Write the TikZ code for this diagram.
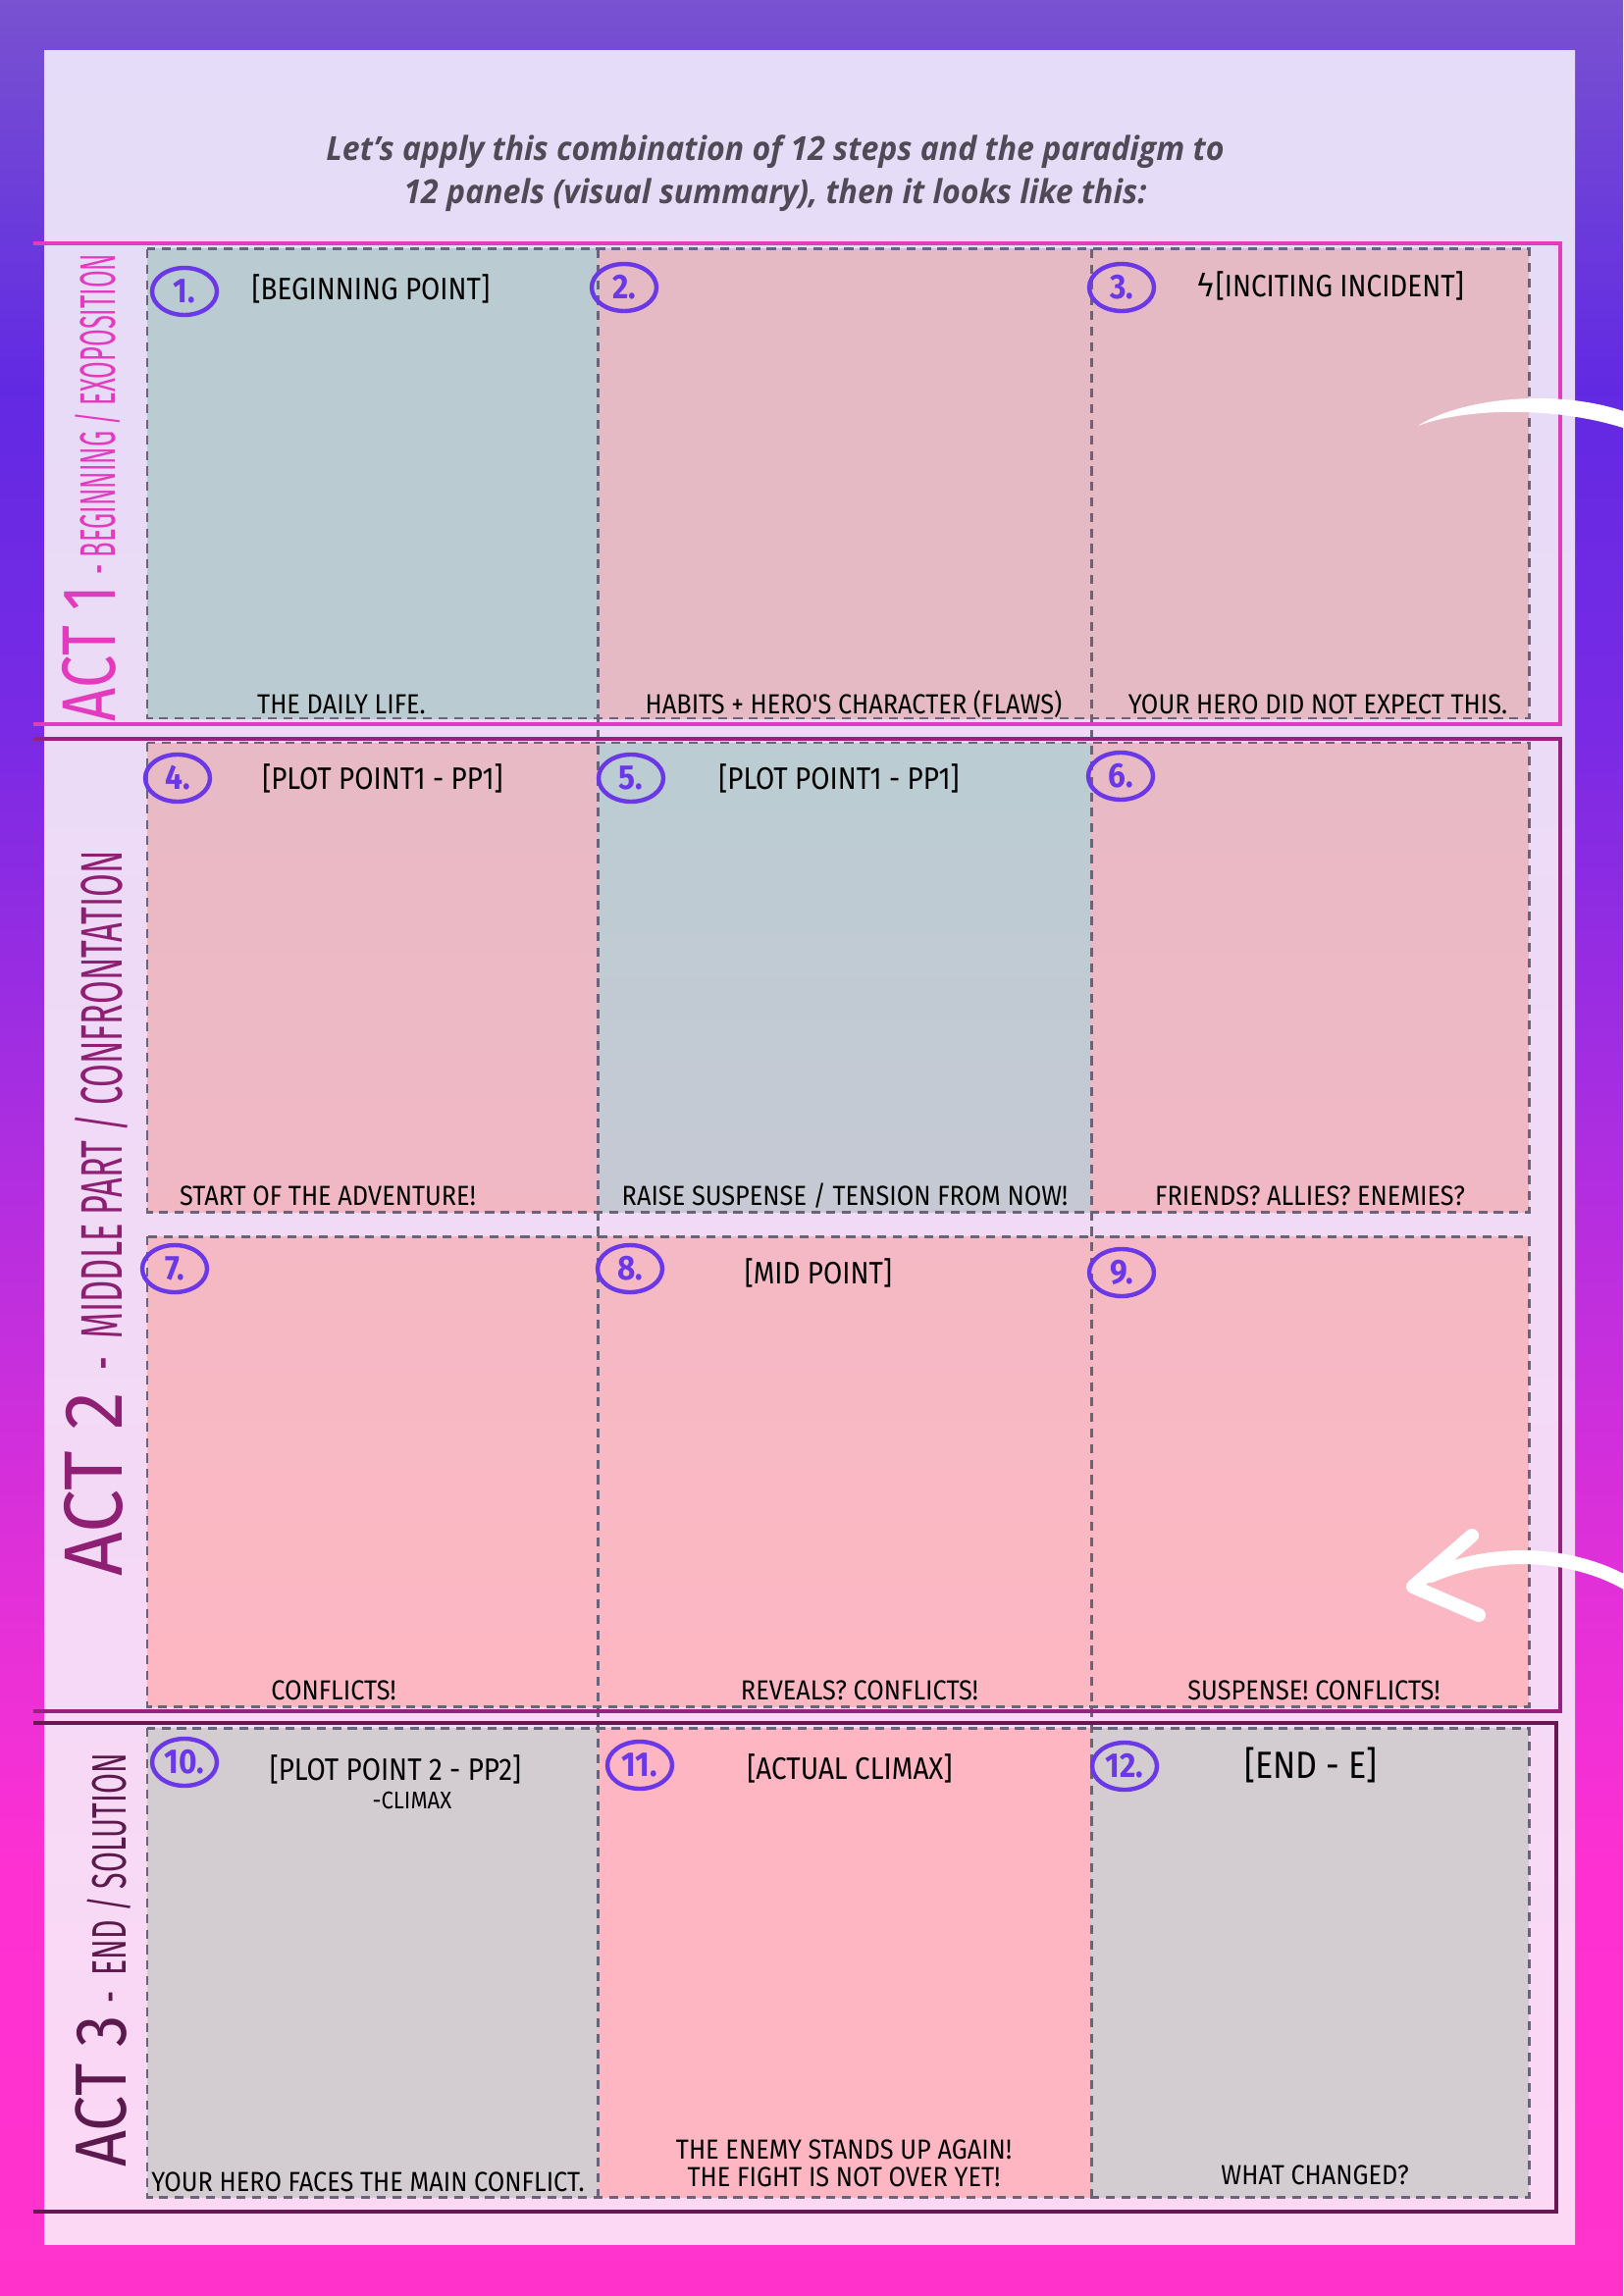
\documentclass[tikz,border=0pt]{standalone}
\usepackage{graphicx}
\usepackage{fontspec}
\setmainfont{Fira Sans}
\newfontfamily\titlefont[FakeStretch=0.95]{Open Sans}
\newfontfamily\handfont[FakeStretch=0.9]{Fira Sans}
\newfontfamily\handnarrow[FakeStretch=0.88]{Fira Sans}
\newfontfamily\actfont[FakeStretch=0.5]{Fira Sans}
\newfontfamily\actbig[FakeStretch=0.7]{Fira Sans}
\newfontfamily\symfont{DejaVu Sans}
\usetikzlibrary{positioning,fit,calc,shapes.geometric}
\definecolor{bgA}{HTML}{FF33CC}
\definecolor{bgB}{HTML}{FF30D2}
\definecolor{bgC}{HTML}{E430D8}
\definecolor{bgD}{HTML}{B02EE0}
\definecolor{bgE}{HTML}{7A2AE4}
\definecolor{bgF}{HTML}{6229E3}
\definecolor{bgG}{HTML}{7852D0}
\definecolor{pagetop}{HTML}{E4DCF8}
\definecolor{pagebot}{HTML}{FCD8F5}
\definecolor{pblue}{HTML}{BACCD2}
\definecolor{pblueB}{HTML}{BBCCD3}
\definecolor{pblueC}{HTML}{C6C9D3}
\definecolor{ppinkA}{HTML}{E6BAC4}
\definecolor{ppinkB}{HTML}{E7BAC5}
\definecolor{ppinkC}{HTML}{F1B8C4}
\definecolor{ppinkD}{HTML}{F4B9C4}
\definecolor{ppinkE}{HTML}{FDB7C3}
\definecolor{ppinkF}{HTML}{FFB6C3}
\definecolor{pgray}{HTML}{D3CCD1}
\definecolor{dashgray}{HTML}{6A6478}
\definecolor{actone}{HTML}{E33BBD}
\definecolor{acttwo}{HTML}{9A2080}
\definecolor{actthree}{HTML}{66184F}
\definecolor{acttwotext}{HTML}{8E1F72}
\definecolor{actthreetext}{HTML}{5C1A4C}
\definecolor{numviolet}{HTML}{6B38E8}
\definecolor{titlegray}{HTML}{4F4A55}
\pgfdeclareverticalshading{outerbg}{100bp}{color(0bp)=(bgA); color(25bp)=(bgA); color(34bp)=(bgB); color(40bp)=(bgC); color(49.6bp)=(bgD); color(59bp)=(bgE); color(66.5bp)=(bgF); color(75bp)=(bgG); color(100bp)=(bgG)}
\tikzset{cell/.style={inner sep=0pt,outer sep=0pt},
grid/.style={draw=dashgray,line width=.85pt,dash pattern=on 2.6pt off 1.9pt},
actline/.style={line width=1.1pt},
num/.style={ellipse,draw=numviolet,line width=1.25pt,text=numviolet,minimum width=6.6mm,minimum height=4.8mm,inner sep=0pt,font=\handfont\bfseries\fontsize{10}{10}\selectfont},
toplbl/.style={font=\handnarrow\fontsize{9}{9}\selectfont},
botlbl/.style={font=\handfont\fontsize{8}{9}\selectfont,anchor=base},
brush/.style={draw=white,line width=4pt,line cap=round,line join=round}}
\begin{document}
\begin{tikzpicture}[x=.1mm,y=-.1mm]
\useasboundingbox (0,0) rectangle (1654,2340);
\shade[shading=outerbg] (0,0) rectangle (1654,2340);
\shade[top color=pagetop,bottom color=pagebot] (45,52) rectangle (1605,2287);
\node[font=\titlefont\bfseries\itshape\fontsize{9.6}{12.5}\selectfont,text=titlegray,align=center] (title) at (790,177)
  {Let’s apply this combination of 12 steps and the paradigm to\\12 panels (visual summary), then it looks like this:};
% panels
\foreach \n/\xa/\ya/\xb/\yb/\ct/\cb in {1/150/254/609/732/pblue/pblue,2/609/254/1112/732/ppinkA/ppinkA,3/1112/254/1558/732/ppinkA/ppinkA,
  4/150/757/609/1235/ppinkB/ppinkC,5/609/757/1112/1235/pblueB/pblueC,6/1112/757/1558/1235/ppinkB/ppinkC,
  7/150/1260/609/1739/ppinkD/ppinkE,8/609/1260/1112/1739/ppinkD/ppinkE,9/1112/1260/1558/1739/ppinkD/ppinkE,
  10/150/1761/609/2239/pgray/pgray,11/609/1761/1112/2239/ppinkF/ppinkF,12/1112/1761/1558/2239/pgray/pgray}{
  \node[cell,top color=\ct,bottom color=\cb,fit={(\xa,\ya) (\xb,\yb)}] (p\n) {};
}
\foreach \a/\b in {p1/p3,p4/p6,p7/p9,p10/p12}{\draw[grid] (\a.north west) rectangle (\b.south east);}
\draw[grid] (p1.north east) -- (p10.south east) (p2.north east) -- (p11.south east);
% acts
\draw[actline,draw=actone] (34,248) -- (1590,248) -- (1590,738) -- (34,738);
\draw[actline,draw=acttwo] (34,753) -- (1590,753) -- (1590,1744) -- (34,1744);
\draw[actline,draw=actthree] (34,1756) -- (1586,1756) -- (1586,2254) -- (34,2254);
\node[rotate=90,text=actone,font=\actfont] (act1) at (93,497)
  {\scalebox{1.1}[1]{\actbig\fontsize{22}{22}\selectfont ACT 1} \fontsize{14.5}{14.5}\selectfont\ - BEGINNING / EXOPOSITION};
\node[rotate=90,text=acttwotext,font=\actfont] (act2) at (98,1237)
  {\scalebox{1.33}[1]{\actbig\fontsize{24}{24}\selectfont ACT 2} \scalebox{1.15}[1]{\fontsize{17}{17}\selectfont\ \ -\ \ MIDDLE\ PART / CONFRONTATION}};
\node[rotate=90,text=actthreetext,font=\actfont] (act3) at (105,1998)
  {\scalebox{1.25}[1]{\actbig\fontsize{21}{21}\selectfont ACT 3} \scalebox{1.23}[1]{\fontsize{14}{14}\selectfont\ -\ \ END / SOLUTION}};
% step numbers
\foreach \n/\x/\y in {1/188/297,2/636/293,3/1143/293,4/181/793,5/643/793,6/1142/791,
  7/178/1293,8/642/1293,9/1143/1297,10/188/1796,11/652/1799,12/1146/1800}{
  \node[num] (c\n) at (\x,\y) {\n.};
}
% panel headings
\node[toplbl] (t1) at (378,294) {[BEGINNING POINT]};
\node[toplbl] (t3) at (1355,291) {{\symfont ϟ}[INCITING INCIDENT]};
\node[toplbl] (t4) at (390,793) {[PLOT POINT1 - PP1]};
\node[toplbl] (t5) at (855,793) {[PLOT POINT1 - PP1]};
\node[toplbl] (t8) at (834,1297) {[MID POINT]};
\node[toplbl] (t10) at (403,1803) {[PLOT POINT 2 - PP2]};
\node[botlbl,font=\handfont\fontsize{7}{8}\selectfont] (t10b) at (420,1843) {-CLIMAX};
\node[toplbl] (t11) at (866,1802) {[ACTUAL CLIMAX]};
\node[toplbl,font=\handnarrow\fontsize{11}{11}\selectfont] (t12) at (1336,1799) {[END - E]};
% panel captions
\node[botlbl] (b1) at (348,727) {THE DAILY LIFE.};
\node[botlbl] (b2) at (870,727) {HABITS + HERO'S CHARACTER (FLAWS)};
\node[botlbl] (b3) at (1343,727) {YOUR HERO DID NOT EXPECT THIS.};
\node[botlbl] (b4) at (334,1228) {START OF THE ADVENTURE!};
\node[botlbl] (b5) at (861,1228) {RAISE SUSPENSE / TENSION FROM NOW!};
\node[botlbl] (b6) at (1335,1228) {FRIENDS? ALLIES? ENEMIES?};
\node[botlbl] (b7) at (340,1732) {CONFLICTS!};
\node[botlbl] (b8) at (876,1732) {REVEALS? CONFLICTS!};
\node[botlbl] (b9) at (1339,1732) {SUSPENSE! CONFLICTS!};
\node[botlbl] (b10) at (375,2233) {YOUR HERO FACES THE MAIN CONFLICT.};
\node[botlbl] (b11) at (860,2200) {THE ENEMY STANDS UP AGAIN!};
\node[botlbl] (b11b) at (860,2228) {THE FIGHT IS NOT OVER YET!};
\node[botlbl] (b12) at (1340,2226) {WHAT CHANGED?};
% white strokes
\coordinate (s1) at (1445,434);
\coordinate (s2) at (1660,421);
\fill[white] (s1) .. controls (1490,405) and (1590,395) .. (s2) -- (1660,438) .. controls (1590,414) and (1495,415) .. (s1) -- cycle;
\coordinate (tip) at (1440,1617);
\coordinate (tail) at (1660,1615);
\draw[brush] (tail) .. controls (1610,1585) and (1530,1575) .. (1458,1606);
\draw[brush] (1500,1565) -- (tip) -- (1507,1646);
\end{tikzpicture}
\end{document}
